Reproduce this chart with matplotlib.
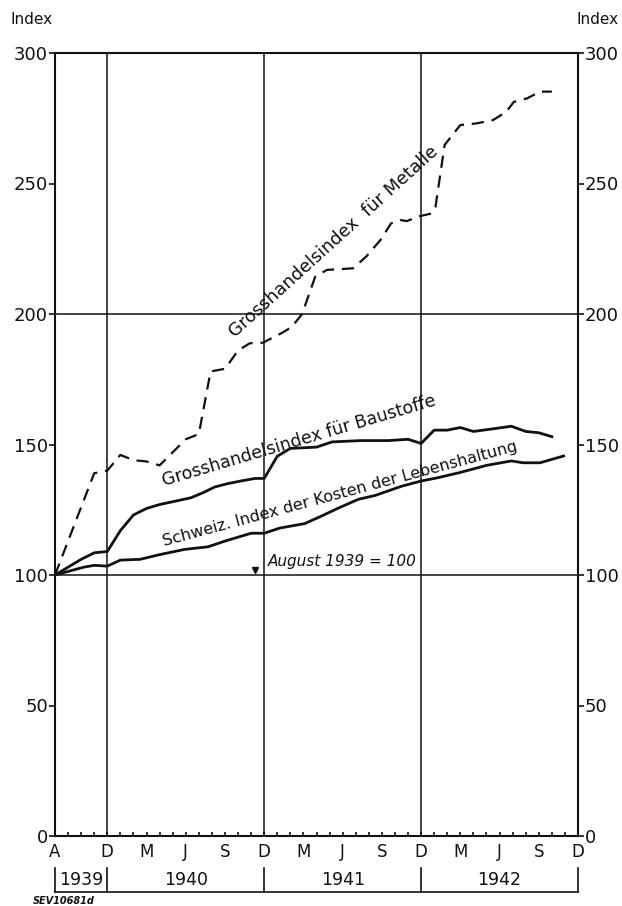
import matplotlib
matplotlib.use('Agg')
import matplotlib.pyplot as plt
import matplotlib.transforms as mtransforms

# months counted from August 1939 (0) to December 1942 (40)
metal_months = [0, 3, 4, 5, 6, 7, 8, 10, 11, 11.9, 13, 14, 14.9, 15.9, 17.3, 18.1, 18.9, 19.9,
                20.8, 22.8, 23.8, 24.9, 25.7, 26.4, 26.9, 27.9, 28.8, 29.1, 29.8, 31, 32.2,
                33.5, 34.5, 35.1, 36.1, 37.1, 38]
metal_index = [100, 139, 140, 146, 144, 143.5, 142, 152, 154, 178, 179, 186, 188.8, 189, 192.6,
               195, 200, 214.3, 216.9, 217.5, 222, 228.4, 234.7, 236, 235.6, 237.5, 238.5, 241,
               264.8, 272.4, 273, 274.3, 277.4, 281.3, 282.6, 285.2, 285.2]

bau_months = [0, 2, 3, 4, 5, 6, 7, 8, 9.4, 10.4, 11.4, 12.2, 13.2, 14.2, 15.3, 16, 17, 18, 20,
              21.2, 23.4, 25.5, 27, 28, 29, 30, 31, 32, 33.5, 34.9, 36, 37, 38]
bau_index = [100, 106, 108.5, 109, 117, 123, 125.5, 127, 128.5, 129.6, 131.7, 133.7, 135, 136,
             137, 137, 145.5, 148.5, 149, 151, 151.5, 151.5, 152, 150.4, 155.5, 155.5, 156.5,
             155, 156, 157, 155, 154.5, 153]

leben_months = [0, 2.2, 3, 4, 5, 6.5, 8, 9.9, 11.7, 13, 15, 16, 17.2, 19.1, 20.3, 21.7, 23.2,
                24.5, 26.5, 28, 29.3, 31, 33, 34.9, 35.8, 37.1, 38.9]
leben_index = [100, 103, 103.7, 103.4, 105.7, 106, 107.8, 109.8, 110.8, 113, 116, 116, 118,
               119.7, 122.4, 125.7, 129, 130.5, 134, 136, 137.3, 139.3, 142, 143.7, 143, 143,
               145.6]

month_ticks = [0, 4, 7, 10, 13, 16, 19, 22, 25, 28, 31, 34, 37, 40]
month_labels = ['A', 'D', 'M', 'J', 'S', 'D', 'M', 'J', 'S', 'D', 'M', 'J', 'S', 'D']
year_edges = [0, 4, 16, 28, 40]
year_labels = ['1939', '1940', '1941', '1942']
y_ticks = [0, 50, 100, 150, 200, 250, 300]

ink = '#111111'

fig = plt.figure(figsize=(6.22, 9.06), dpi=100)
ax = fig.add_axes([55 / 622, 1 - 836 / 906, 523 / 622, 783 / 906])
ax.set_xlim(0, 40)
ax.set_ylim(0, 300)

# grid
for x in year_edges[1:-1]:
    ax.axvline(x, color=ink, lw=1.1, zorder=1)
for y in [100, 200]:
    ax.axhline(y, color=ink, lw=1.1, zorder=1)

ax.plot(metal_months, metal_index, color=ink, lw=1.6, dashes=(5.5, 3.5), zorder=3)
ax.plot(bau_months, bau_index, color=ink, lw=2.0, zorder=3)
ax.plot(leben_months, leben_index, color=ink, lw=2.0, zorder=3)
ax.plot([15.3], [101.8], marker='v', ms=4, color=ink, zorder=3)

for s in ax.spines.values():
    s.set_linewidth(1.5)
    s.set_color(ink)

ax.set_yticks(y_ticks)
ax.set_yticklabels([str(v) for v in y_ticks])
ax.tick_params(axis='y', which='both', left=True, right=True, labelleft=True,
               labelright=True, direction='out', length=4, width=1.2, pad=1,
               labelsize=13, colors=ink)
ax.set_xticks(month_ticks)
ax.set_xticklabels(month_labels)
ax.set_xticks(range(0, 41), minor=True)
ax.tick_params(axis='x', which='both', direction='in', length=3, width=1.2,
               pad=5, labelsize=12, colors=ink)

# year bracket below the month letters
tr = mtransforms.blended_transform_factory(ax.transData, ax.transAxes)
for x in year_edges:
    ax.plot([x, x], [-0.041, -0.0715], color=ink, lw=1.2, transform=tr, clip_on=False)
ax.plot([0, 40], [-0.0715, -0.0715], color=ink, lw=1.2, transform=tr, clip_on=False)
for i, lab in enumerate(year_labels):
    xm = (year_edges[i] + year_edges[i + 1]) / 2
    ax.text(xm, -0.0565, lab, transform=tr, ha='center', va='center', fontsize=12.5, color=ink)

# curve labels
ax.text(21.3, 227.6, 'Grosshandelsindex  für Metalle', rotation=42.2, ha='center',
        va='center', fontsize=12.8, color=ink, rotation_mode='anchor')
ax.text(18.7, 151.5, 'Grosshandelsindex für Baustoffe', rotation=16.5, ha='center',
        va='center', fontsize=12.5, color=ink, rotation_mode='anchor')
ax.text(21.8, 131.2, 'Schweiz. Index der Kosten der Lebenshaltung', rotation=15.1, ha='center',
        va='center', fontsize=11.5, color=ink, rotation_mode='anchor')
ax.text(16.3, 105, 'August 1939 = 100', ha='left', va='center', fontsize=11,
        style='italic', color=ink)

fig.text(10 / 622, 1 - 20 / 906, 'Index', fontsize=11, color=ink,
         va='center', ha='left')
fig.text(576 / 622, 1 - 20 / 906, 'Index', fontsize=11, color=ink,
         va='center', ha='left')
fig.text(33 / 622, 1 - 901 / 906, 'SEV10681d', fontsize=7, fontweight='bold',
         style='italic', color=ink, va='center', ha='left')

fig.savefig('out.png', dpi=100)
